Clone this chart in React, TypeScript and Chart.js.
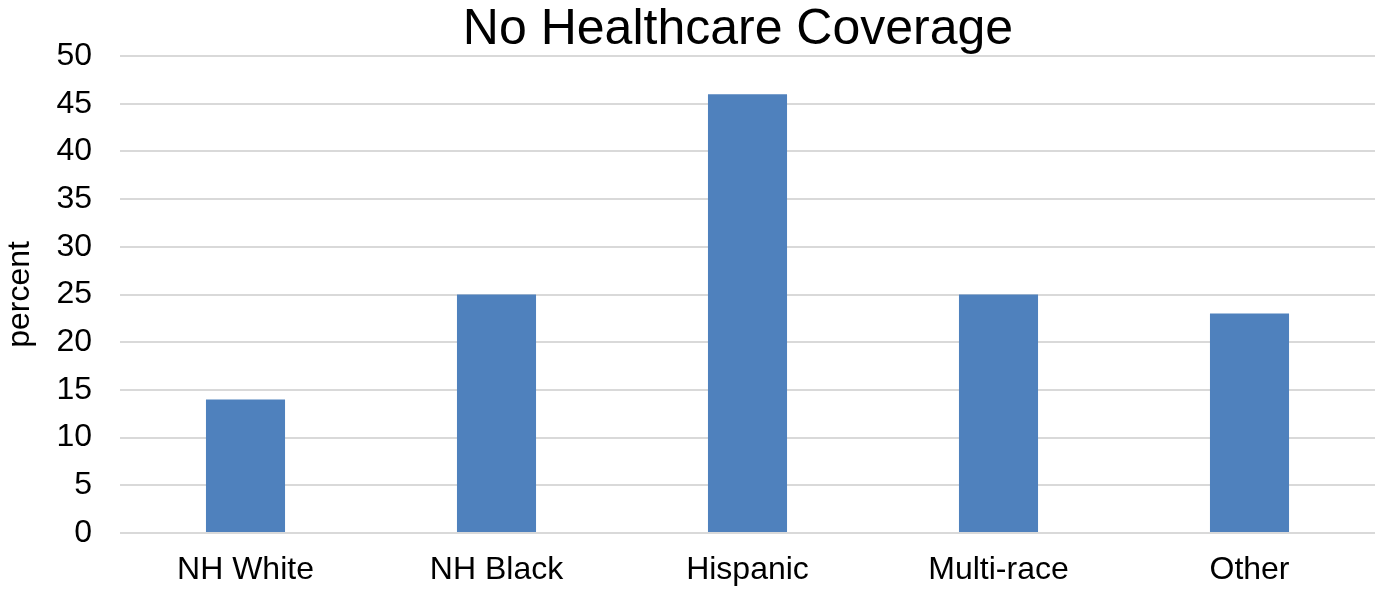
import React, { useEffect, useRef } from "react";
import { Chart, registerables } from "chart.js";

Chart.register(...registerables);

const categories: string[] = ["NH White", "NH Black", "Hispanic", "Multi-race", "Other"];
const values: number[] = [14, 25, 46, 25, 23];
const titleText = "No Healthcare Coverage";
const yAxisLabel = "percent";
const yMin = 0;
const yMax = 50;
const yStep = 5;

const FONT = "'Liberation Sans', Arial, sans-serif";

const titlePlugin = {
  id: "offsetTitle",
  afterDraw(chart: any) {
    const ctx = chart.ctx;
    ctx.save();
    ctx.font = `normal 50px ${FONT}`;
    ctx.fillStyle = "#000";
    ctx.textAlign = "center";
    ctx.textBaseline = "middle";
    ctx.fillText(titleText, 738, 30);
    ctx.restore();
  },
};

export default function App() {
  const ref = useRef<HTMLCanvasElement | null>(null);

  useEffect(() => {
    document.body.style.margin = "0";
    const canvas = ref.current;
    if (!canvas) return;
    const chart = new Chart(canvas, {
      type: "bar",
      data: {
        labels: categories,
        datasets: [
          {
            label: titleText,
            data: values,
            backgroundColor: "#4F81BD",
            borderWidth: 0,
            categoryPercentage: 1,
            barPercentage: 0.315,
          },
        ],
      },
      plugins: [titlePlugin],
      options: {
        responsive: false,
        animation: false,
        layout: { padding: { top: 56, left: 0, right: 0, bottom: 0 } },
        plugins: {
          legend: { display: false },
          tooltip: { enabled: false },
          title: { display: false },
        },
        scales: {
          x: {
            grid: { display: false, drawTicks: false },
            border: { display: false },
            ticks: {
              color: "#000",
              font: { family: FONT, size: 32 },
              padding: 18,
              maxRotation: 0,
              autoSkip: false,
            },
            afterFit: (scale: any) => {
              scale.height = 59;
            },
          },
          y: {
            min: yMin,
            max: yMax,
            grid: { color: "#d9d9d9", lineWidth: 2, drawTicks: false },
            border: { display: false },
            ticks: {
              stepSize: yStep,
              color: "#000",
              font: { family: FONT, size: 32 },
              padding: 28,
            },
            title: {
              display: true,
              text: yAxisLabel,
              color: "#000",
              font: { family: FONT, size: 32, lineHeight: 1.2 },
              padding: { top: 1, bottom: 0 },
            },
            afterFit: (scale: any) => {
              scale.width = 120;
            },
          },
        },
      },
    });
    return () => chart.destroy();
  }, []);

  return (
    <div style={{ position: "fixed", left: 0, top: 0, width: 1375, height: 592 }}>
      <canvas ref={ref} width={1375} height={592} />
    </div>
  );
}
